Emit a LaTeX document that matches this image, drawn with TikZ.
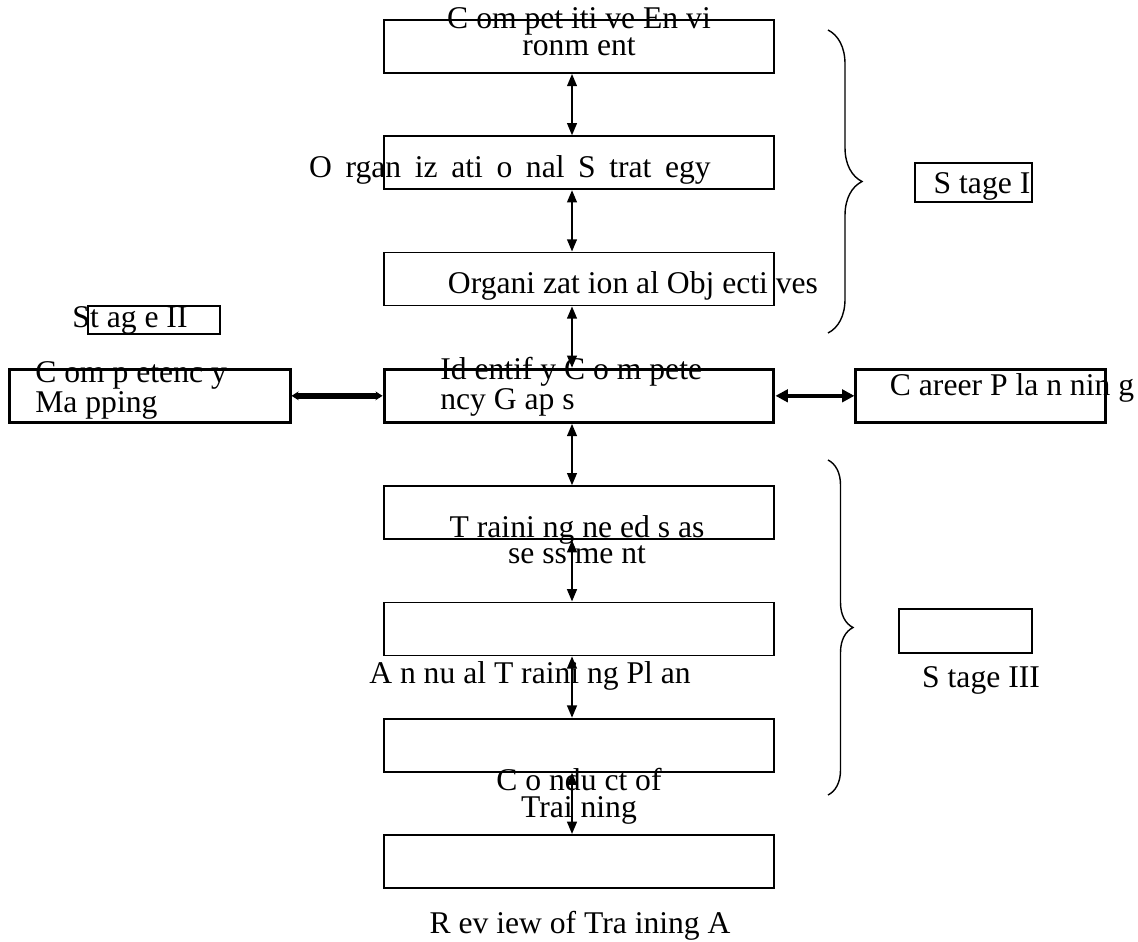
\documentclass[tikz,border=0pt]{standalone}
\usepackage{fontspec}
\setmainfont{Liberation Serif}
\usepackage{tikz}
\usetikzlibrary{arrows.meta,positioning,decorations.pathreplacing}

\begin{document}
\begin{tikzpicture}[
    x=0.02cm, y=-0.02cm,
    box/.style={draw, line width=1pt, minimum width=7.8cm, minimum height=1.06cm, inner sep=0pt},
    keybox/.style={box, line width=1.7pt},
    stagebox/.style={draw, line width=0.8pt, inner sep=0pt},
    lbl/.style={font=\fontsize{18}{13}\selectfont, align=center, inner sep=0pt, anchor=base},
    vlink/.style={{Triangle[length=7pt,width=5.5pt]}-{Triangle[length=7pt,width=5.5pt]}, line width=1.2pt},
    sidelink/.style={{Stealth[length=4pt,width=5pt]}-{Stealth[length=4pt,width=5pt]}, line width=3.4pt},
    cplink/.style={{Triangle[length=7pt,width=7pt]}-{Triangle[length=7pt,width=7pt]}, line width=2.3pt},
    bracket/.style={decorate, line width=0.8pt}
]
\useasboundingbox (0,0) rectangle (1138,941);

% Main column
\node[box] (env) at (579,46.5) {};
\node[box, below=1.23cm of env] (strat) {};
\node[box, below=1.23cm of strat] (obj) {};
\node[keybox, below=1.23cm of obj] (gap) {};
\node[box, below=1.23cm of gap] (tna) {};
\node[box, below=1.23cm of tna] (atp) {};
\node[box, below=1.23cm of atp] (cot) {};
\node[box, below=1.23cm of cot] (rev) {};

% Side boxes
\node[keybox, minimum width=5.62cm, left=1.82cm of gap] (map) {};
\node[keybox, minimum width=5.0cm, right=1.58cm of gap] (career) {};

% Stage boxes
\node[stagebox, minimum width=2.34cm, minimum height=0.78cm] (stageone) at (973.5,182.5) {};
\node[stagebox, minimum width=2.64cm, minimum height=0.56cm] (stagetwo) at (154,320) {};
\node[stagebox, minimum width=2.66cm, minimum height=0.88cm] (stagethree) at (965.5,631) {};

% Labels (base = last line)
\node[lbl] (envtxt) at (579,55) {C om pet iti ve En vi\\ronm ent};
\node[lbl] (strattxt) at (510,177) {\spaceskip=0.43em\relax O rgan iz ati o nal S trat egy};
\node[lbl] (objtxt) at (633,293) {Organi zat ion al Obj ecti ves};
\node[lbl, align=left, anchor=base west, font=\fontsize{18}{11.3}\selectfont] (gaptxt) at (440,409) {Id entif y C o m pete\\ncy G ap s};
\node[lbl, font=\fontsize{18}{14.7}\selectfont] (tnatxt) at (577,563) {T raini ng ne ed s as\\se ss me nt};
\node[lbl] (atptxt) at (530,683) {A n nu al T raini ng Pl an};
\node[lbl, font=\fontsize{18}{15.3}\selectfont] (cottxt) at (579,817) {C o ndu ct of\\Trai ning};
\node[lbl] (revtxt) at (580,933) {R ev iew of Tra ining A};
\node[lbl, align=left, anchor=base west, font=\fontsize{18}{11.3}\selectfont] (maptxt) at (35,412) {C om p etenc y\\Ma pping};
\node[lbl] (careertxt) at (1012,395) {C areer P la n nin g};
\node[lbl] (stageonetxt) at (982,193) {S tage I};
\node[lbl] (stagetwotxt) at (130,327) {St ag e II};
\node[lbl] (stagethreetxt) at (981,687) {S tage III};

% Vertical links
\draw[vlink] ([xshift=-0.14cm]env.south) -- ([xshift=-0.14cm]strat.north);
\draw[vlink] ([xshift=-0.14cm]strat.south) -- ([xshift=-0.14cm]obj.north);
\draw[vlink] ([xshift=-0.14cm]obj.south) -- ([xshift=-0.14cm]gap.north);
\draw[vlink] ([xshift=-0.14cm]gap.south) -- ([xshift=-0.14cm]tna.north);
\draw[vlink] ([xshift=-0.14cm]tna.south) -- ([xshift=-0.14cm]atp.north);
\draw[vlink] ([xshift=-0.14cm]atp.south) -- ([xshift=-0.14cm]cot.north);
\draw[vlink] ([xshift=-0.14cm]cot.south) -- ([xshift=-0.14cm]rev.north);

% Side links
\draw[sidelink] (map.east) -- (gap.west);
\draw[cplink] (gap.east) -- (career.west);

% Stage brackets
\draw[bracket, decoration={brace, amplitude=0.68cm}] (828,30) -- (828,333);
\draw[bracket, decoration={brace, amplitude=0.5cm}] (828,460) -- (828,795);
\end{tikzpicture}
\end{document}
